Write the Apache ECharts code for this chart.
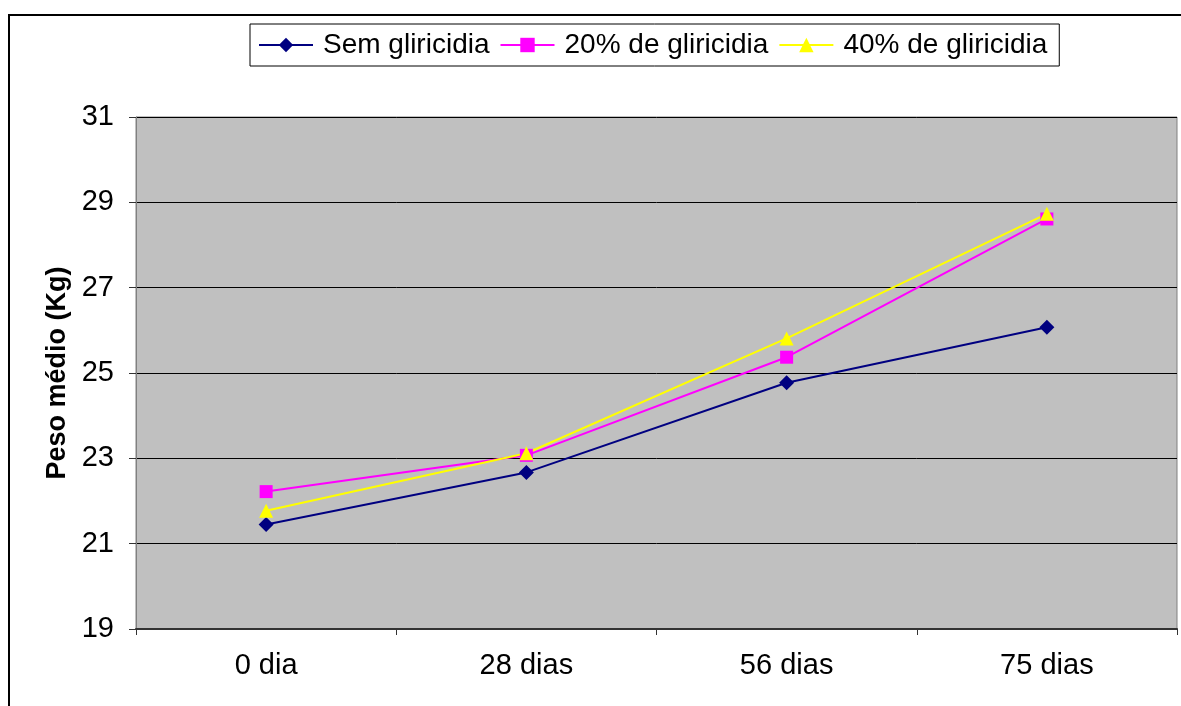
<!DOCTYPE html>
<html><head><meta charset="utf-8">
<script src="https://cdn.jsdelivr.net/npm/echarts@6/dist/echarts.min.js"></script>
<style>html,body{margin:0;padding:0;background:#fff}#c{width:1181px;height:706px}</style>
</head><body><div id="c"></div>
<script>
const categories = ['0 dia', '28 dias', '56 dias', '75 dias'];
const semGliricidia = [21.45, 22.67, 24.77, 26.07];
const gliricidia20 = [22.22, 23.07, 25.37, 28.61];
const gliricidia40 = [21.77, 23.12, 25.81, 28.73];
const seriesNames = ['Sem gliricidia', '20% de gliricidia', '40% de gliricidia'];
const yTitle = 'Peso médio (Kg)';

const font = 'Liberation Sans, Arial, sans-serif';
const chart = echarts.init(document.getElementById('c'), null, {renderer: 'canvas'});
function mk(name, data, color, symbol, size) {
  return {
    name: name, type: 'line', data: data,
    symbol: symbol, symbolSize: size,
    lineStyle: {color: color, width: 2},
    itemStyle: {color: color},
    animation: false
  };
}
chart.setOption({
  animation: false,
  backgroundColor: '#fff',
  graphic: [{
    type: 'rect', shape: {x: 9, y: 15, width: 1200, height: 720},
    style: {fill: 'none', stroke: '#000', lineWidth: 2}, z: -1
  }],
  grid: {left: 136, right: 4, top: 117, bottom: 77, show: true,
    backgroundColor: '#C0C0C0', borderColor: '#808080', borderWidth: 1},
  legend: {
    left: 250, top: 24,
    padding: [7, 12, 7, 8],
    borderColor: '#000', borderWidth: 1, backgroundColor: '#fff',
    itemWidth: 54, itemHeight: 18, itemGap: 10,
    textStyle: {fontFamily: font, fontSize: 28, color: '#000', padding: [0, 0, 0, 5]},
    data: seriesNames
  },
  xAxis: {
    type: 'category', data: categories, boundaryGap: true,
    axisLine: {lineStyle: {color: '#333', width: 2}},
    axisTick: {show: true, length: 6, lineStyle: {color: '#333'}},
    axisLabel: {fontFamily: font, fontSize: 29, color: '#000', margin: 22},
    splitLine: {show: false}
  },
  yAxis: {
    type: 'value', min: 19, max: 31, interval: 2,
    name: yTitle, nameLocation: 'middle', nameGap: 64,
    nameTextStyle: {fontFamily: font, fontSize: 27, fontWeight: 'bold', color: '#000'},
    axisLine: {show: true, lineStyle: {color: '#808080'}},
    axisTick: {show: true, length: 7, lineStyle: {color: '#333'}},
    axisLabel: {fontFamily: font, fontSize: 29, color: '#000', margin: 22},
    splitLine: {show: true, lineStyle: {color: '#000', width: 1}}
  },
  series: [
    mk(seriesNames[0], semGliricidia, '#000080', 'diamond', 15),
    mk(seriesNames[1], gliricidia20, '#FF00FF', 'rect', 13),
    mk(seriesNames[2], gliricidia40, '#FFFF00', 'triangle', 14)
  ]
});
</script></body></html>
